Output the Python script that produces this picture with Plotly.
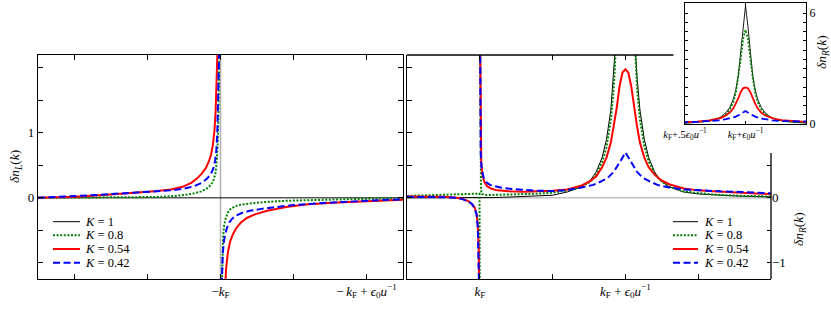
import plotly.graph_objects as go

W, H = 831, 309

# ---------------- series definitions ----------------
K_labels = ["1", "0.8", "0.54", "0.42"]
colors = ["#000000", "#008000", "#ff0000", "#0000ff"]
dashes = ["solid", "2px,1.6px", "solid", "7px,3.5px"]
widths = [1.0, 2.0, 2.0, 2.0]

# Left panel: x measured from -kF in units of eps0/u
L_K1_x = [-1.25, 1.25]
L_K1_y = [0.0, 0.0]

L_K08_x = [-1.25, -1.0, -0.8, -0.6, -0.45, -0.34, -0.25, -0.18, -0.13, -0.09, -0.065, -0.048,
           -0.035, -0.026, -0.019, -0.014, -0.01, -0.006, None,
           0.008, 0.012, 0.018, 0.025, 0.035, 0.05, 0.07, 0.1, 0.14, 0.2, 0.3, 0.45, 0.65, 0.9, 1.1, 1.25]
L_K08_y = [0.0, 0.002, 0.004, 0.007, 0.013, 0.025, 0.042, 0.07, 0.1, 0.15, 0.2, 0.27,
           0.37, 0.55, 0.85, 1.3, 1.8, 2.5, None,
           -1.5, -0.95, -0.6, -0.42, -0.32, -0.23, -0.17, -0.13, -0.105, -0.088, -0.065, -0.045, -0.03, -0.02, -0.012, -0.008]

L_K054_x = [-1.25, -1.0, -0.8, -0.6, -0.45, -0.34, -0.26, -0.2, -0.16, -0.13, -0.1, -0.08, -0.065,
            -0.052, -0.042, -0.034, -0.027, -0.021, -0.016, None,
            0.03, 0.038, 0.05, 0.065, 0.085, 0.11, 0.14, 0.18, 0.24, 0.32, 0.45, 0.6, 0.8, 1.0, 1.25]
L_K054_y = [0.0, 0.018, 0.045, 0.075, 0.1, 0.13, 0.17, 0.23, 0.3, 0.37, 0.46, 0.56, 0.66,
            0.82, 1.02, 1.3, 1.65, 2.1, 2.6, None,
            -1.5, -1.1, -0.85, -0.68, -0.56, -0.46, -0.38, -0.31, -0.25, -0.2, -0.14, -0.1, -0.07, -0.05, -0.03]

L_K042_x = [-1.25, -1.0, -0.8, -0.6, -0.45, -0.34, -0.25, -0.18, -0.13, -0.09, -0.065, -0.048,
            -0.036, -0.028, -0.022, -0.016, -0.011, -0.007, None,
            0.006, 0.01, 0.015, 0.022, 0.032, 0.045, 0.06, 0.08, 0.11, 0.15, 0.2, 0.28, 0.38, 0.5, 0.7, 0.9, 1.1, 1.25]
L_K042_y = [0.0, 0.022, 0.05, 0.08, 0.1, 0.115, 0.14, 0.18, 0.23, 0.3, 0.37, 0.46,
            0.58, 0.75, 1.0, 1.4, 1.9, 2.5, None,
            -1.5, -1.15, -0.88, -0.7, -0.56, -0.46, -0.38, -0.32, -0.27, -0.23, -0.2, -0.17, -0.14, -0.11, -0.08, -0.055, -0.035, -0.025]

# Right panel: x measured from kF in units of eps0/u
R_K1_x = [-0.5, 0.0, 0.1, 0.2, 0.3, 0.4, 0.5, 0.6, 0.7, 0.76, 0.8, 0.84, 0.87, 0.9, 0.92, 0.94, 0.96,
          0.98, 1.0, 1.02, 1.04, 1.06, 1.08, 1.1, 1.13, 1.16, 1.2, 1.24, 1.3, 1.4, 1.5, 1.6, 1.75, 1.9, 2.0]
R_K1_y = [0.0, 0.0, 0.005, 0.012, 0.02, 0.03, 0.04, 0.09, 0.17, 0.27, 0.4, 0.62, 0.9, 1.35, 1.85, 2.6, 3.8,
          5.3, 6.4, 5.3, 3.8, 2.6, 1.85, 1.35, 0.9, 0.62, 0.4, 0.27, 0.17, 0.09, 0.06, 0.045, 0.03, 0.02, 0.015]

R_K08_x = [-0.5, -0.3, -0.1, -0.02, -0.002, 0.0, None,
           0.002, 0.004, 0.008, 0.015, 0.03, 0.1, 0.2, 0.3, 0.4, 0.5, 0.6, 0.7, 0.76, 0.8, 0.84, 0.87, 0.9,
           0.92, 0.94, 0.96, 0.98, 1.0, 1.02, 1.04, 1.06, 1.08, 1.1, 1.13, 1.16, 1.2, 1.24, 1.3, 1.4, 1.5,
           1.6, 1.75, 1.9, 2.0]
R_K08_y = [0.03, 0.04, 0.05, 0.055, 0.065, -1.5, None,
           2.5, 0.35, 0.12, 0.06, 0.045, 0.045, 0.05, 0.055, 0.065, 0.08, 0.11, 0.17, 0.25, 0.36, 0.55, 0.78, 1.2,
           1.7, 2.5, 3.5, 4.6, 5.1, 4.6, 3.5, 2.5, 1.7, 1.2, 0.8, 0.56, 0.38, 0.27, 0.17, 0.1, 0.07,
           0.05, 0.035, 0.025, 0.02]

R_K054_x = [-0.5, -0.35, -0.25, -0.17, -0.12, -0.08, -0.055, -0.035, -0.022, -0.014, -0.008, -0.004, None,
            0.002, 0.005, 0.01, 0.018, 0.03, 0.05, 0.08, 0.12, 0.2, 0.3, 0.4, 0.5, 0.6, 0.7, 0.76, 0.8, 0.84,
            0.87, 0.9, 0.92, 0.94, 0.96, 0.98, 1.0, 1.02, 1.04, 1.06, 1.08, 1.1, 1.13, 1.16, 1.2, 1.24, 1.3,
            1.4, 1.5, 1.6, 1.75, 1.9, 2.0]
R_K054_y = [0.02, 0.02, 0.015, 0.005, -0.015, -0.05, -0.09, -0.15, -0.25, -0.42, -0.75, -1.5, None,
            2.5, 0.9, 0.55, 0.36, 0.25, 0.18, 0.14, 0.115, 0.1, 0.095, 0.1, 0.11, 0.13, 0.19, 0.26, 0.33, 0.47,
            0.62, 0.85, 1.1, 1.38, 1.72, 1.93, 1.98, 1.93, 1.72, 1.38, 1.1, 0.85, 0.62, 0.47, 0.36, 0.28, 0.21,
            0.145, 0.115, 0.1, 0.08, 0.065, 0.06]

R_K042_x = [-0.5, -0.35, -0.25, -0.17, -0.12, -0.08, -0.055, -0.035, -0.022, -0.014, -0.008, -0.004, None,
            0.002, 0.006, 0.012, 0.025, 0.045, 0.07, 0.1, 0.15, 0.22, 0.3, 0.4, 0.5, 0.6, 0.7, 0.78, 0.84,
            0.88, 0.92, 0.95, 0.975, 1.0, 1.025, 1.05, 1.08, 1.12, 1.16, 1.22, 1.3, 1.4, 1.5, 1.65, 1.8, 2.0]
R_K042_y = [0.015, 0.015, 0.01, 0.0, -0.02, -0.055, -0.095, -0.16, -0.26, -0.44, -0.78, -1.5, None,
            2.5, 0.7, 0.46, 0.32, 0.24, 0.2, 0.18, 0.155, 0.135, 0.12, 0.11, 0.105, 0.12, 0.16, 0.2, 0.26,
            0.31, 0.4, 0.5, 0.6, 0.7, 0.6, 0.5, 0.4, 0.31, 0.26, 0.2, 0.16, 0.13, 0.115, 0.1, 0.09, 0.07]

left_series = [(L_K1_x, L_K1_y), (L_K08_x, L_K08_y), (L_K054_x, L_K054_y), (L_K042_x, L_K042_y)]
right_series = [(R_K1_x, R_K1_y), (R_K08_x, R_K08_y), (R_K054_x, R_K054_y), (R_K042_x, R_K042_y)]

# tick positions and labels
kF = "<i>k</i><sub>F</sub>"
eps = "<i>ϵ</i><sub>0</sub><i>u</i><sup>−1</sup>"
left_xticks = [-1.0, -0.5, 0.0, 0.5, 1.0]
left_xtext = ["", "", "−" + kF, "", "−\u2009" + kF + " + " + eps]
left_yticks = [-1.0, -0.5, 0.0, 0.5, 1.0, 1.5, 2.0]
left_ytext = ["", "", "0", "", "1", "", ""]
right_xticks = [0.0, 0.5, 1.0, 1.5]
right_xtext = [kF, "", kF + " + " + eps, ""]
right_yticks = [-1.0, -0.5, 0.0, 0.5, 1.0, 1.5, 2.0]
right_xtop_ticks = [0.0, 0.5, 1.0]
right_yticks_vis = [-1.0, -0.5, 0.0, 0.5]
right_ytext_vis = ["−1", "", "0", ""]
inset_xticks = [0.5, 1.0, 1.5]
inset_xtext = [kF + "+.5" + eps, kF + "+" + eps, ""]
inset_yticks = [0, 0.5, 1, 1.5, 2, 2.5, 3, 3.5, 4, 4.5, 5, 5.5, 6, 6.5]
inset_ytext = ["0"] + [""] * 11 + ["6", ""]

FONT = "Liberation Serif"

# ---------------- figure ----------------
fig = go.Figure()

for i in range(4):
    st = dict(color=colors[i], width=widths[i], dash=dashes[i])
    lx, ly = left_series[i]
    fig.add_trace(go.Scatter(x=lx, y=ly, xaxis="x", yaxis="y", mode="lines", line=st,
                             name="K = " + K_labels[i], showlegend=False, hoverinfo="skip"))
for i in range(4):
    st = dict(color=colors[i], width=widths[i], dash=dashes[i])
    rx, ry = right_series[i]
    fig.add_trace(go.Scatter(x=rx, y=ry, xaxis="x2", yaxis="y2", mode="lines", line=st,
                             name="K = " + K_labels[i], showlegend=False, hoverinfo="skip"))
for i in range(4):
    st = dict(color=colors[i], width=widths[i] * 0.9, dash=dashes[i])
    rx, ry = right_series[i]
    fig.add_trace(go.Scatter(x=rx, y=ry, xaxis="x4", yaxis="y4", mode="lines", line=st,
                             name="K = " + K_labels[i], showlegend=False, hoverinfo="skip"))

# empty traces so that the overlay tick axes are realised
fig.add_trace(go.Scatter(x=[None], y=[None], xaxis="x3", yaxis="y2", showlegend=False, hoverinfo="skip"))
fig.add_trace(go.Scatter(x=[None], y=[None], xaxis="x2", yaxis="y3", showlegend=False, hoverinfo="skip"))


def px_x(p):
    return p / W


def px_y(p):
    return 1 - p / H


dom_y = [px_y(279), px_y(55)]
dom_left = [px_x(38), px_x(403)]
dom_right = [px_x(407), px_x(771)]
dom_inset_x = [px_x(685), px_x(806)]
dom_inset_y = [px_y(124), px_y(3)]

tickfont = dict(family=FONT, size=13, color="black")
common = dict(showgrid=False, zeroline=False, ticks="inside", ticklen=4.5, tickwidth=1,
              tickcolor="black", linecolor="black", linewidth=1.3, tickfont=tickfont,
              automargin=False)

XR_L = [-1.25, 1.25]
YR = [-1.25, 2.2]
XR_R = [-0.5, 2.0]
XR_I = [0.5, 1.5]
YR_I = [0, 6.55]

inset_common = {**common, "ticklen": 3}

fig.update_layout(
    width=W, height=H, autosize=False,
    margin=dict(l=0, r=0, t=0, b=0, pad=0, autoexpand=False),
    showlegend=False,
    paper_bgcolor="white", plot_bgcolor="white",
    font=dict(family=FONT, color="black"),
    xaxis=dict(domain=dom_left, range=XR_L, anchor="y", tickvals=left_xticks, ticktext=left_xtext,
               showline=True, mirror="ticks", **common),
    yaxis=dict(domain=dom_y, range=YR, anchor="x", tickvals=left_yticks, ticktext=left_ytext,
               showline=True, mirror="ticks", **common),
    xaxis2=dict(domain=dom_right, range=XR_R, anchor="y2", tickvals=right_xticks, ticktext=right_xtext,
                showline=True, **common),
    yaxis2=dict(domain=dom_y, range=YR, anchor="x2", tickvals=right_yticks, showticklabels=False,
                showline=True, side="left", **common),
    xaxis3=dict(overlaying="x2", range=XR_R, anchor="y2", side="top", tickvals=right_xtop_ticks,
                showticklabels=False, showline=False, **common),
    yaxis3=dict(overlaying="y2", range=YR, anchor="x2", side="right", tickvals=right_yticks_vis,
                ticktext=right_ytext_vis, showline=False, **common),
    xaxis4=dict(domain=dom_inset_x, range=XR_I, anchor="y4", tickvals=inset_xticks,
                ticktext=inset_xtext, showline=True, mirror="ticks",
                **{**inset_common, "tickfont": dict(family=FONT, size=10.5, color="black")}),
    yaxis4=dict(domain=dom_inset_y, range=YR_I, anchor="x4", side="right", tickvals=inset_yticks,
                ticktext=inset_ytext, showline=True, mirror="ticks",
                **{**inset_common, "tickfont": dict(family=FONT, size=12, color="black")}),
)

shapes = [
    # reference lines
    dict(type="line", xref="x", yref="y domain", x0=0, x1=0, y0=0, y1=1, layer="below",
         line=dict(color="#b4b4b4", width=1.6)),
    dict(type="line", xref="x2 domain", yref="y2", x0=0, x1=1, y0=0, y1=0, layer="below",
         line=dict(color="#b4b4b4", width=1.2)),
    # partial frame of the right panel (inset covers the top-right corner)
    dict(type="line", xref="x2", yref="y2 domain", x0=-0.5, x1=1.33, y0=1, y1=1,
         line=dict(color="black", width=1.3)),
    dict(type="line", xref="x2 domain", yref="y2", x0=1, x1=1, y0=-1.25, y1=0.69,
         line=dict(color="black", width=1.3)),
]

annotations = []
# legends (drawn as layout decorations)
leg_font = dict(family=FONT, size=12.5, color="black")
leg_rows = [221.7, 235.3, 249, 262.7]
for x0, x1, xt in [(53, 80, 83), (673, 698, 702)]:
    for i in range(4):
        yy = px_y(leg_rows[i])
        shapes.append(dict(type="line", xref="paper", yref="paper", x0=px_x(x0), x1=px_x(x1), y0=yy, y1=yy,
                           line=dict(color=colors[i], width=widths[i], dash=dashes[i])))
        annotations.append(dict(xref="paper", yref="paper", x=px_x(xt), y=yy, xanchor="left", yanchor="middle",
                                text="<i>K</i> = " + K_labels[i], showarrow=False, font=leg_font))

title_font = dict(family=FONT, size=13.5, color="black")
annotations += [
    dict(xref="paper", yref="paper", x=px_x(15), y=px_y(167), text="<i>δn</i><sub><i>L</i></sub>(<i>k</i>)",
         textangle=-90, showarrow=False, font=title_font, xanchor="center", yanchor="middle"),
    dict(xref="paper", yref="paper", x=px_x(799), y=px_y(229), text="<i>δn</i><sub><i>R</i></sub>(<i>k</i>)",
         textangle=-90, showarrow=False, font=title_font, xanchor="center", yanchor="middle"),
    dict(xref="paper", yref="paper", x=px_x(822), y=px_y(52), text="<i>δn</i><sub><i>R</i></sub>(<i>k</i>)",
         textangle=-90, showarrow=False, font=title_font, xanchor="center", yanchor="middle"),
]

fig.update_layout(shapes=shapes, annotations=annotations)

fig.write_html("out.html", config={"displayModeBar": False},
               post_script="document.body.style.margin='0px';document.body.style.overflow='hidden';")
